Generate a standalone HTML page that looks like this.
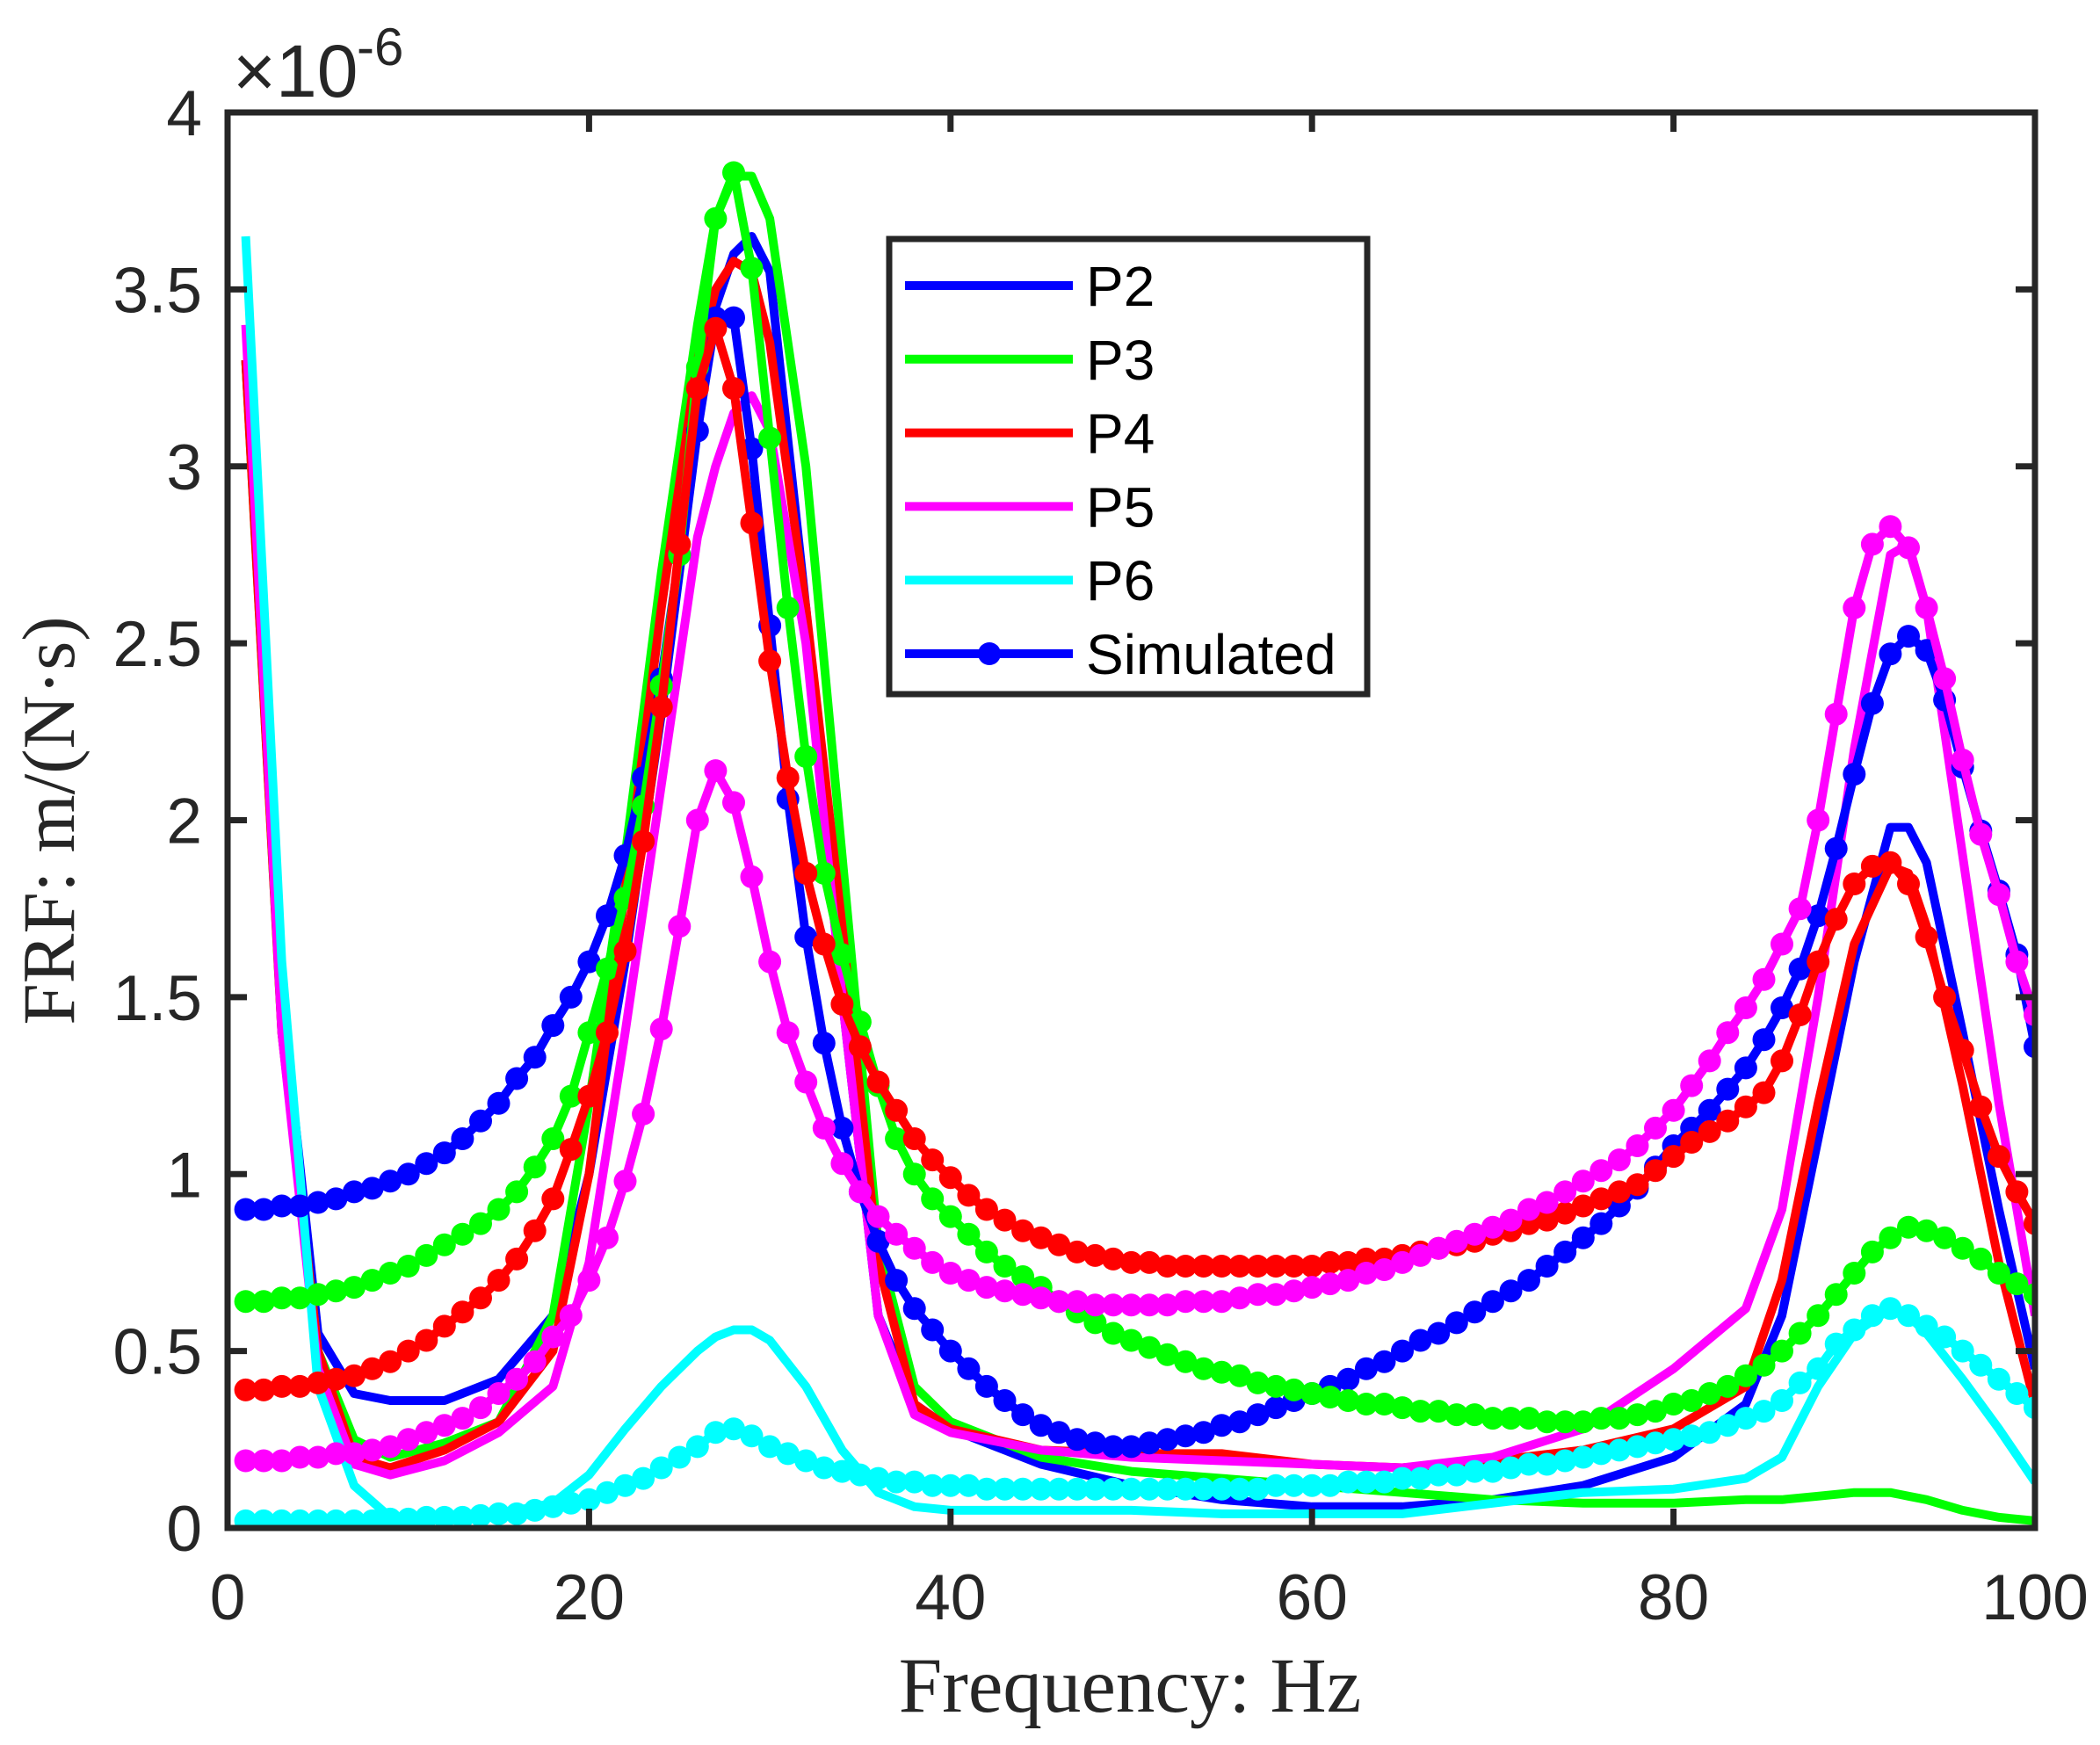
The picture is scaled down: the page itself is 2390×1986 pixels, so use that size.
<!DOCTYPE html>
<html><head><meta charset="utf-8"><style>
html,body{margin:0;padding:0;background:#fff;}
svg{display:block;}
</style></head><body>
<svg id="chart" width="2390" height="1986" viewBox="0 0 2390 1986" xmlns="http://www.w3.org/2000/svg">
<rect width="2390" height="1986" fill="#fff"/>
<defs><clipPath id="clip"><rect x="259" y="128" width="2057" height="1611"/></clipPath></defs>
<g id="plot"></g>
<g id="axes"></g>
<g id="legend"></g>
</svg>
<script>
// ---- data ----
const xTicks = [0, 20, 40, 60, 80, 100];
const yTicks = [0, 0.5, 1, 1.5, 2, 2.5, 3, 3.5, 4];
const yTickLabels = ["0", "0.5", "1", "1.5", "2", "2.5", "3", "3.5", "4"];
const measFreq = [1,3,5,7,9,12,15,18,20,22,24,26,27,28,29,30,32,34,36,38,40,45,50,55,60,65,70,75,80,84,86,88,90,92,93,94,96,98,100];
const p2 = [3.3,1.5,0.55,0.38,0.36,0.36,0.42,0.6,1.0,1.6,2.3,3.1,3.45,3.6,3.65,3.55,2.6,1.5,0.6,0.35,0.28,0.18,0.12,0.08,0.06,0.06,0.08,0.12,0.2,0.35,0.6,1.1,1.6,1.98,1.98,1.88,1.4,0.9,0.45];
const p3 = [3.3,1.4,0.5,0.25,0.2,0.24,0.3,0.6,1.2,1.9,2.7,3.4,3.7,3.82,3.82,3.7,3.0,1.9,0.8,0.4,0.3,0.2,0.16,0.14,0.12,0.1,0.08,0.07,0.07,0.08,0.08,0.09,0.1,0.1,0.09,0.08,0.05,0.03,0.02];
const p4 = [3.3,1.4,0.5,0.2,0.17,0.22,0.3,0.5,1.0,1.8,2.6,3.3,3.5,3.58,3.55,3.35,2.6,1.7,0.75,0.35,0.28,0.22,0.21,0.21,0.18,0.17,0.19,0.22,0.28,0.4,0.7,1.2,1.65,1.87,1.85,1.7,1.25,0.75,0.35];
const p5 = [3.4,1.4,0.45,0.18,0.15,0.19,0.27,0.4,0.75,1.4,2.1,2.8,3.0,3.15,3.2,3.1,2.5,1.5,0.6,0.32,0.27,0.22,0.2,0.19,0.18,0.17,0.2,0.28,0.45,0.62,0.9,1.5,2.2,2.75,2.78,2.6,1.9,1.2,0.6];
const p6 = [3.65,1.6,0.4,0.12,0.03,0.03,0.04,0.07,0.15,0.28,0.4,0.5,0.54,0.56,0.56,0.53,0.4,0.22,0.1,0.06,0.05,0.05,0.05,0.04,0.04,0.04,0.07,0.1,0.11,0.14,0.2,0.4,0.55,0.62,0.6,0.55,0.42,0.28,0.13];
const simFreq = Array.from({length:100},(_,i)=>i+1);
const simBlue = [0.90,0.90,0.91,0.91,0.92,0.93,0.95,0.96,0.98,1.00,1.03,1.06,1.10,1.15,1.20,1.27,1.33,1.42,1.50,1.60,1.73,1.90,2.12,2.40,2.75,3.10,3.42,3.42,3.05,2.55,2.06,1.67,1.37,1.13,0.95,0.81,0.70,0.62,0.56,0.50,0.45,0.40,0.36,0.32,0.29,0.27,0.25,0.24,0.23,0.23,0.24,0.25,0.26,0.27,0.29,0.30,0.32,0.34,0.36,0.38,0.40,0.42,0.45,0.47,0.50,0.53,0.55,0.58,0.61,0.64,0.67,0.70,0.74,0.78,0.82,0.86,0.91,0.96,1.02,1.08,1.13,1.18,1.24,1.30,1.38,1.47,1.58,1.73,1.92,2.13,2.33,2.47,2.52,2.48,2.34,2.15,1.97,1.80,1.62,1.36];
const simGreen = [0.64,0.64,0.65,0.65,0.66,0.67,0.68,0.70,0.72,0.74,0.77,0.80,0.83,0.86,0.90,0.95,1.02,1.10,1.22,1.40,1.58,1.78,2.04,2.38,2.75,3.28,3.70,3.83,3.56,3.08,2.60,2.18,1.85,1.62,1.43,1.25,1.10,1.00,0.93,0.88,0.83,0.78,0.74,0.71,0.68,0.64,0.61,0.58,0.55,0.53,0.51,0.49,0.47,0.45,0.44,0.43,0.41,0.40,0.39,0.38,0.37,0.36,0.35,0.35,0.34,0.33,0.33,0.32,0.32,0.31,0.31,0.31,0.30,0.30,0.30,0.31,0.31,0.32,0.33,0.35,0.36,0.38,0.40,0.43,0.46,0.50,0.55,0.60,0.66,0.72,0.78,0.82,0.85,0.84,0.82,0.79,0.76,0.72,0.69,0.66];
const simRed = [0.39,0.39,0.40,0.40,0.41,0.42,0.43,0.45,0.47,0.50,0.53,0.57,0.61,0.65,0.70,0.76,0.84,0.93,1.07,1.22,1.40,1.63,1.94,2.32,2.78,3.22,3.39,3.22,2.84,2.45,2.12,1.85,1.65,1.48,1.36,1.26,1.18,1.10,1.04,0.99,0.94,0.90,0.87,0.84,0.82,0.80,0.78,0.77,0.76,0.75,0.75,0.74,0.74,0.74,0.74,0.74,0.74,0.74,0.74,0.74,0.75,0.75,0.76,0.76,0.77,0.78,0.79,0.80,0.81,0.83,0.84,0.86,0.87,0.89,0.91,0.93,0.95,0.97,1.01,1.05,1.09,1.12,1.15,1.19,1.23,1.32,1.45,1.60,1.72,1.82,1.87,1.88,1.82,1.67,1.50,1.35,1.19,1.05,0.95,0.86];
const simMagenta = [0.19,0.19,0.19,0.20,0.20,0.21,0.21,0.22,0.23,0.25,0.27,0.29,0.31,0.34,0.38,0.42,0.47,0.54,0.60,0.70,0.82,0.98,1.17,1.41,1.70,2.00,2.14,2.05,1.84,1.60,1.40,1.26,1.13,1.03,0.95,0.88,0.83,0.79,0.75,0.72,0.70,0.68,0.67,0.66,0.65,0.64,0.64,0.63,0.63,0.63,0.63,0.63,0.64,0.64,0.64,0.65,0.66,0.66,0.67,0.68,0.69,0.70,0.72,0.73,0.75,0.77,0.79,0.81,0.83,0.85,0.87,0.90,0.92,0.95,0.98,1.01,1.04,1.08,1.13,1.18,1.25,1.32,1.40,1.47,1.55,1.65,1.75,2.00,2.30,2.60,2.78,2.83,2.77,2.60,2.40,2.17,1.96,1.79,1.60,1.45];
const simCyan = [0.02,0.02,0.02,0.02,0.02,0.02,0.02,0.02,0.025,0.025,0.03,0.03,0.03,0.035,0.04,0.04,0.05,0.06,0.07,0.08,0.10,0.12,0.14,0.17,0.20,0.23,0.27,0.28,0.26,0.23,0.21,0.19,0.17,0.16,0.15,0.14,0.13,0.13,0.12,0.12,0.12,0.11,0.11,0.11,0.11,0.11,0.11,0.11,0.11,0.11,0.11,0.11,0.11,0.11,0.11,0.11,0.11,0.12,0.12,0.12,0.12,0.13,0.13,0.13,0.14,0.14,0.15,0.15,0.16,0.16,0.17,0.18,0.18,0.19,0.20,0.21,0.22,0.23,0.24,0.25,0.26,0.27,0.29,0.31,0.33,0.36,0.41,0.45,0.52,0.56,0.60,0.62,0.60,0.57,0.54,0.50,0.46,0.42,0.38,0.34];
const legendLabels = ["P2","P3","P4","P5","P6","Simulated"];

// ---- layout ----
const X0=259, X1=2316, Y0=1739, Y1=128;
const xScale = v => X0 + (v-0)/(100-0)*(X1-X0);
const yScale = v => Y0 - (v-0)/(4-0)*(Y0-Y1);
const NS="http://www.w3.org/2000/svg";
function mk(tag, attrs, parent){const e=document.createElementNS(NS,tag);for(const k in attrs)e.setAttribute(k,attrs[k]);parent.appendChild(e);return e;}
const plot=document.getElementById('plot'), axes=document.getElementById('axes'), legend=document.getElementById('legend');
const gPlot=mk('g',{'clip-path':'url(#clip)'},plot);

function line(xs, ys, color, name){
  const d = xs.map((x,i)=>(i?'L':'M')+xScale(x).toFixed(1)+' '+yScale(ys[i]).toFixed(1)).join(' ');
  const p = mk('path',{d:d,fill:'none',stroke:color,'stroke-width':10,'stroke-linejoin':'round'},gPlot);
  
  
}
line(measFreq,p2,'#0000ff','p2-line');
line(measFreq,p3,'#00ff00','p3-line');
line(measFreq,p4,'#ff0000','p4-line');
line(measFreq,p5,'#ff00ff','p5-line');
line(measFreq,p6,'#00ffff','p6-line');

function sim(ys,color,name){
  line(simFreq,ys,color,name+'-line');
  const g=mk('g',{fill:color},gPlot);
  
  
  simFreq.forEach((f,i)=>{
    const c=mk('circle',{cx:xScale(f).toFixed(1),cy:yScale(ys[i]).toFixed(1),r:13},g);
    
    
  });
}
sim(simBlue,'#0000ff','sim-blue');
sim(simGreen,'#00ff00','sim-green');
sim(simRed,'#ff0000','sim-red');
sim(simMagenta,'#ff00ff','sim-magenta');
sim(simCyan,'#00ffff','sim-cyan');

// axes frame + ticks
const ax='#262626';
const frame=mk('rect',{x:X0,y:Y1,width:X1-X0,height:Y0-Y1,fill:'none',stroke:ax,'stroke-width':7},axes);


xTicks.forEach(t=>{
  const x=xScale(t);
  mk('line',{x1:x,y1:Y0,x2:x,y2:Y0-22,stroke:ax,'stroke-width':7},axes);
  mk('line',{x1:x,y1:Y1,x2:x,y2:Y1+22,stroke:ax,'stroke-width':7},axes);
  const tx=mk('text',{x:x,y:1843,'text-anchor':'middle','font-family':'Liberation Sans, sans-serif','font-size':73,fill:ax},axes);
  tx.textContent=String(t);
  
  
});
yTicks.forEach((t,i)=>{
  const y=yScale(t);
  mk('line',{x1:X0,y1:y,x2:X0+22,y2:y,stroke:ax,'stroke-width':7},axes);
  mk('line',{x1:X1,y1:y,x2:X1-22,y2:y,stroke:ax,'stroke-width':7},axes);
  const tx=mk('text',{x:230,y:y+26,'text-anchor':'end','font-family':'Liberation Sans, sans-serif','font-size':73,fill:ax},axes);
  tx.textContent=yTickLabels[i];
  
  
});

function addText(attrs, txt, name){
  const t=mk('text',attrs,axes);
  t.textContent=txt;
  
  
  return t;
}
addText({x:265,y:110,'font-family':'Liberation Sans, sans-serif','font-size':84,fill:'#262626'},'\u00d710','y-axis-exponent');
addText({x:406,y:74,'font-family':'Liberation Sans, sans-serif','font-size':60,fill:'#262626'},'-6','y-axis-exponent-power');
addText({x:1286,y:1948,'text-anchor':'middle','font-family':'Liberation Serif, serif','font-size':89,fill:'#262626'},'Frequency: Hz','x-axis-title');
addText({x:0,y:0,transform:'translate(84,934) rotate(-90)','text-anchor':'middle','font-family':'Liberation Serif, serif','font-size':85,fill:'#262626'},'FRF: m/(N\u00b7s)','y-axis-title');

// legend
const box=mk('rect',{x:1012,y:272,width:544,height:518,fill:'#fff',stroke:'#262626','stroke-width':7},legend);


const legColors=['#0000ff','#00ff00','#ff0000','#ff00ff','#00ffff','#0000ff'];
legendLabels.forEach((lab,i)=>{
  const y=325+i*83.8;
  const g=mk('g',{},legend);
  
  
  mk('line',{x1:1030,x2:1221,y1:y,y2:y,stroke:legColors[i],'stroke-width':10},g);
  if(i===5){mk('circle',{cx:1126,cy:y,r:13,fill:legColors[i]},g);}
  const t=mk('text',{x:1236,y:y+23,'font-family':'Liberation Sans, sans-serif','font-size':64,fill:'#000'},g);
  t.textContent=lab;
});
</script>
</body></html>
